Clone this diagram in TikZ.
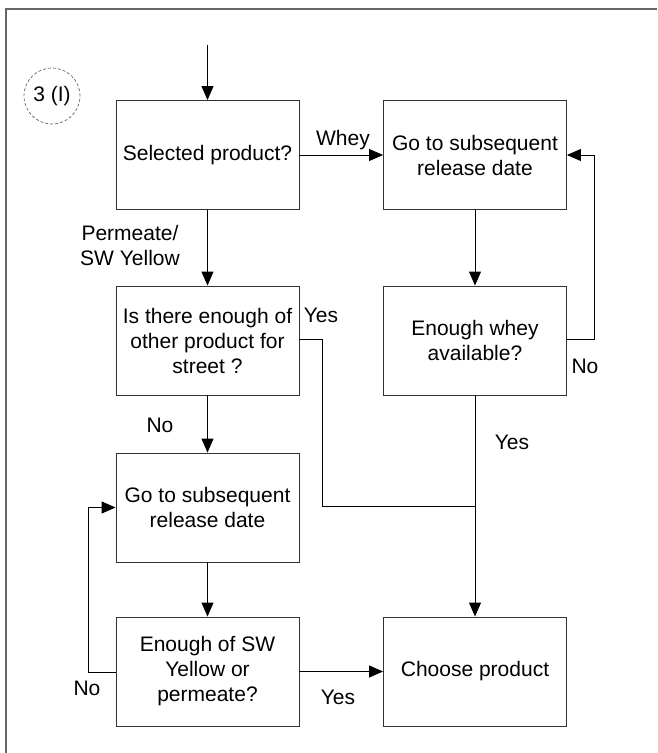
\documentclass[tikz,border=0pt]{standalone}
\usepackage{fontspec}
\setmainfont{Liberation Sans}
\usetikzlibrary{arrows.meta}
\begin{document}
\begin{tikzpicture}[x=1pt,y=-1pt,
  txt/.style={font=\fontsize{21}{25}\selectfont},
  box/.style={txt,draw=black!80,line width=0.9pt,rectangle,minimum width=183pt,minimum height=109pt,align=center,inner sep=0pt},
  lbl/.style={txt,align=center,inner sep=0pt},
  arr/.style={line width=0.9pt,-{Triangle[length=14pt,width=12pt]}},
  ln/.style={line width=0.9pt}]
\useasboundingbox (0,0) rectangle (657,753);
% frame edges
\draw[black!60,line width=1.6pt] (6,753) -- (6,9) -- (657,9);
% sheet tag
\node[txt,draw=black!60,dash pattern=on 3pt off 2pt,line width=0.7pt,circle,minimum size=56pt,inner sep=0pt] (tag) at (52,96) {3 (I)};
% boxes
\node[box] (b1) at (207.5,155) {Selected product?};
\node[box] (b2) at (475,155) {Go to subsequent\\release date};
\node[box] (b3) at (207.5,340.5) {Is there enough of\\other product for\\street ?};
\node[box] (b4) at (475,340.5) {Enough whey\\available?};
\node[box] (b5) at (207.5,507.5) {Go to subsequent\\release date};
\node[box] (b6) at (207.5,671.5) {Enough of SW\\Yellow or\\permeate?};
\node[box] (b7) at (475,671.5) {Choose product};
% helper points
\coordinate (start) at (207.5,45);
\coordinate (nr) at (594,339);
\coordinate (ya) at (322,339);
\coordinate (yb) at (322,506);
\coordinate (yj) at (475,506);
\coordinate (nl) at (88,672);
% connectors
\draw[arr] (start) -- (b1);
\draw[arr] (b1) -- (b2);
\draw[arr] (b1) -- (b3);
\draw[arr] (b2) -- (b4);
\draw[arr] (b4.east |- nr) -- (nr) |- (b2.east);
\draw[arr] (b4) -- (b7);
\draw[ln] (b3.east |- ya) -- (ya) -- (yb) -- (yj);
\draw[arr] (b3) -- (b5);
\draw[arr] (b5) -- (b6);
\draw[arr] (b6.west |- nl) -- (nl) |- (b5.west);
\draw[arr] (b6) -- (b7);
% labels
\node[lbl] (lw) at (343,140) {Whey};
\node[lbl] (lp) at (130,245) {Permeate/\\SW Yellow};
\node[lbl] (ly1) at (321,315) {Yes};
\node[lbl] (ln1) at (160,425) {No};
\node[lbl] (ln2) at (585,366) {No};
\node[lbl] (ly2) at (512,442) {Yes};
\node[lbl] (ln3) at (87,688) {No};
\node[lbl] (ly3) at (338,697) {Yes};
\end{tikzpicture}
\end{document}
